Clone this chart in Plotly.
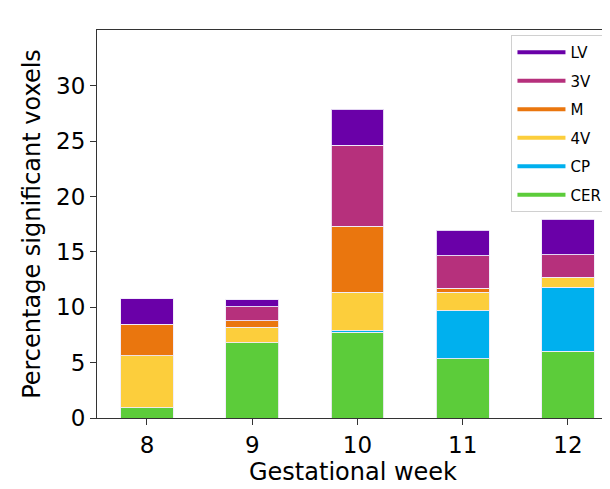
import plotly.graph_objects as go

weeks = [8, 9, 10, 11, 12]
week_labels = ["8", "9", "10", "11", "12"]
CER = [0.93, 6.8, 7.74, 5.36, 6.05]
CP = [0.0, 0.0, 0.12, 4.31, 5.78]
V4 = [4.70, 1.42, 3.49, 1.71, 0.88]
M = [2.83, 0.57, 5.99, 0.36, 0.0]
V3 = [0.0, 1.24, 7.32, 2.92, 2.04]
LV = [2.32, 0.66, 3.24, 2.32, 3.20]

series = [
    ("CER", CER, "#5ccc3a"),
    ("CP", CP, "#00b0ee"),
    ("4V", V4, "#fcce3c"),
    ("M", M, "#ea760e"),
    ("3V", V3, "#b6307c"),
    ("LV", LV, "#6a00a8"),
]

fig = go.Figure()
for name, vals, col in series:
    fig.add_trace(go.Bar(x=weeks, y=vals, name=name, marker_color=col,
                         marker_line_color="rgba(240,235,250,0.9)", marker_line_width=1,
                         width=0.5, showlegend=False))
for name, vals, col in reversed(series):
    fig.add_trace(go.Scatter(x=[None], y=[None], mode="lines", name=name,
                             legendgroup=name,
                             line=dict(color=col, width=4)))

fig.update_layout(
    barmode="stack",
    width=602, height=481,
    margin=dict(l=89, r=1, t=22, b=71),
    plot_bgcolor="white", paper_bgcolor="white",
    font=dict(family="DejaVu Sans", color="black"),
    legend=dict(x=0.997, y=0.987, xanchor="right", yanchor="top",
                bordercolor="#d0d0d0", borderwidth=1, bgcolor="white",
                font=dict(size=15), traceorder="grouped",
                tracegroupgap=6, itemwidth=48),
    xaxis=dict(tickvals=weeks, ticktext=week_labels, range=[7.525, 12.39],
               showline=True, linecolor="#333", linewidth=1.2, mirror=True,
               ticks="outside", ticklen=6, tickcolor="#333", automargin=False,
               tickfont=dict(size=23), showgrid=False,
               title=dict(text="Gestational week", font=dict(size=24), standoff=6)),
    yaxis=dict(range=[0, 35.05], tickvals=[0, 5, 10, 15, 20, 25, 30],
               showline=True, linecolor="#333", linewidth=1.2, mirror=True,
               ticks="outside", ticklen=6, tickcolor="#333", automargin=False,
               tickfont=dict(size=23), showgrid=False, zeroline=False,
               title=dict(text="Percentage significant voxels", font=dict(size=24), standoff=8)),
)
fig.write_html("out.html")
